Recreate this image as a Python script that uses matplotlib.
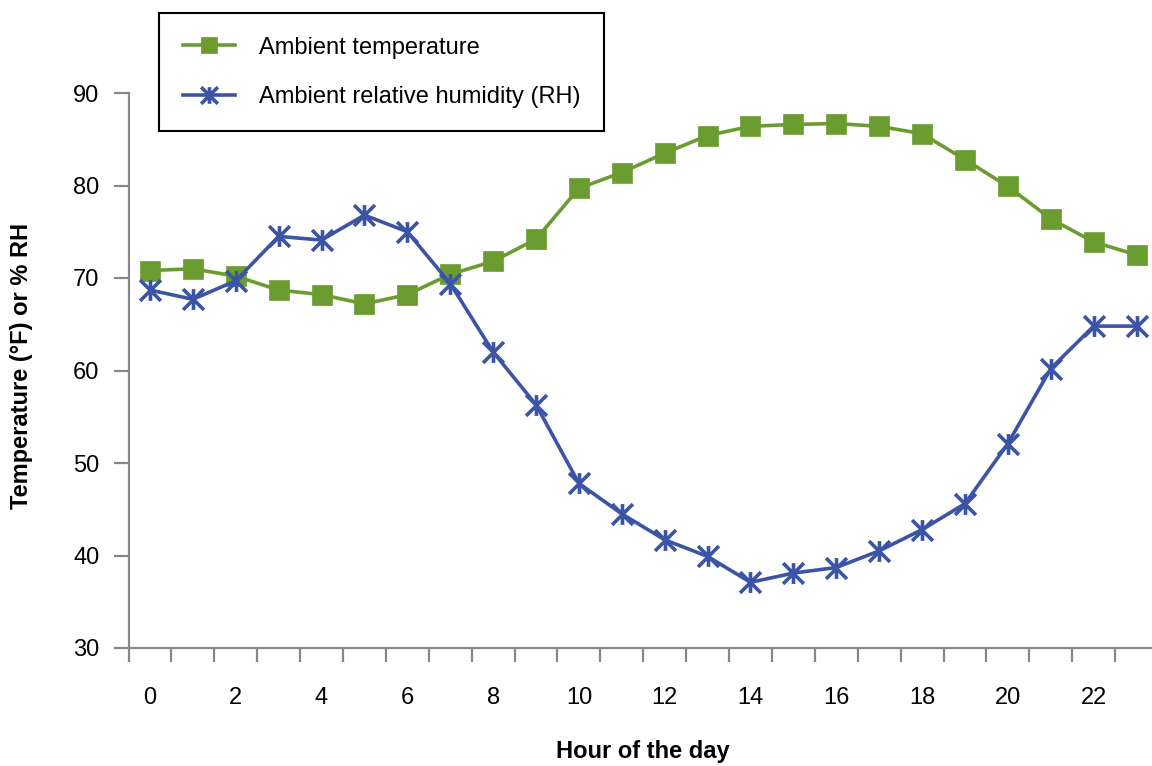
import matplotlib
matplotlib.use("Agg")
import matplotlib.pyplot as plt
import numpy as np
from matplotlib.path import Path

plt.rcParams['font.family'] = ['Liberation Sans', 'DejaVu Sans']

# hourly readings
hours = list(range(24))
temperature = [70.8, 71.0, 70.2, 68.7, 68.2, 67.2, 68.2, 70.4, 71.8, 74.2,
               79.7, 81.4, 83.5, 85.4, 86.4, 86.6, 86.7, 86.4, 85.6, 82.8,
               79.9, 76.4, 73.9, 72.5]
humidity = [68.7, 67.7, 69.7, 74.5, 74.1, 76.8, 75.0, 69.4, 62.0, 56.3,
            47.8, 44.5, 41.7, 39.9, 37.1, 38.1, 38.7, 40.5, 42.8, 45.6,
            52.1, 60.2, 64.8, 64.8]
tick_hours = list(range(0, 24, 2))
y_ticks = [30, 40, 50, 60, 70, 80, 90]

green = "#6a9c30"
blue = "#3b54a5"
grey = "#878787"
fs = 17

# Excel-style star: vertical bar plus an X
star = Path([(0, -1), (0, 1), (-1, -1), (1, 1), (-1, 1), (1, -1)],
            [Path.MOVETO, Path.LINETO, Path.MOVETO, Path.LINETO,
             Path.MOVETO, Path.LINETO])

fig = plt.figure(figsize=(11.52, 7.66), dpi=100)
ax = fig.add_axes([128.5/1152, 118/766, 1029.5/1152, 555/766])

ax.plot(hours, temperature, color=green, lw=2.6, marker='s', ms=14,
        mec=green, mew=0.5, label="Ambient temperature", zorder=3)
ax.plot(hours, humidity, color=blue, lw=2.6, marker=star, ms=15,
        mec=blue, mew=2.6, label="Ambient relative humidity (RH)", zorder=4)

ax.set_xlim(-0.5, 23.5)
ax.set_ylim(30, 90)

for s in ['top', 'right']:
    ax.spines[s].set_visible(False)
for s in ['left', 'bottom']:
    ax.spines[s].set_color(grey)
    ax.spines[s].set_linewidth(1.6)

ax.set_yticks(y_ticks)
ax.tick_params(axis='y', direction='out', length=11, width=1.6, color=grey,
               pad=10, labelsize=fs)
ax.set_xticks(tick_hours)
ax.set_xticks(np.arange(-0.5, 24, 1), minor=True)
ax.tick_params(axis='x', which='major', length=0, pad=28, labelsize=fs)
ax.tick_params(axis='x', which='minor', direction='out', length=10,
               width=1.6, color=grey)

ax.set_xlabel("Hour of the day", fontsize=fs, fontweight='bold', va='center')
ax.xaxis.set_label_coords(0.5, -0.187)
ax.set_ylabel("Temperature (°F) or % RH", fontsize=fs, fontweight='bold',
              va='center')
ax.yaxis.set_label_coords(-0.1035, 0.508)

leg = ax.legend(loc='upper left', bbox_to_anchor=(159/1152, 1 - 13/766),
                bbox_transform=fig.transFigure, borderaxespad=0,
                fontsize=fs, fancybox=False, frameon=True, framealpha=1,
                edgecolor='black', handlelength=2.2, handletextpad=1.05,
                labelspacing=1.15, borderpad=1.0, markerscale=0.8)
leg.get_frame().set_linewidth(1.5)

fig.savefig("out.png", dpi=100)
